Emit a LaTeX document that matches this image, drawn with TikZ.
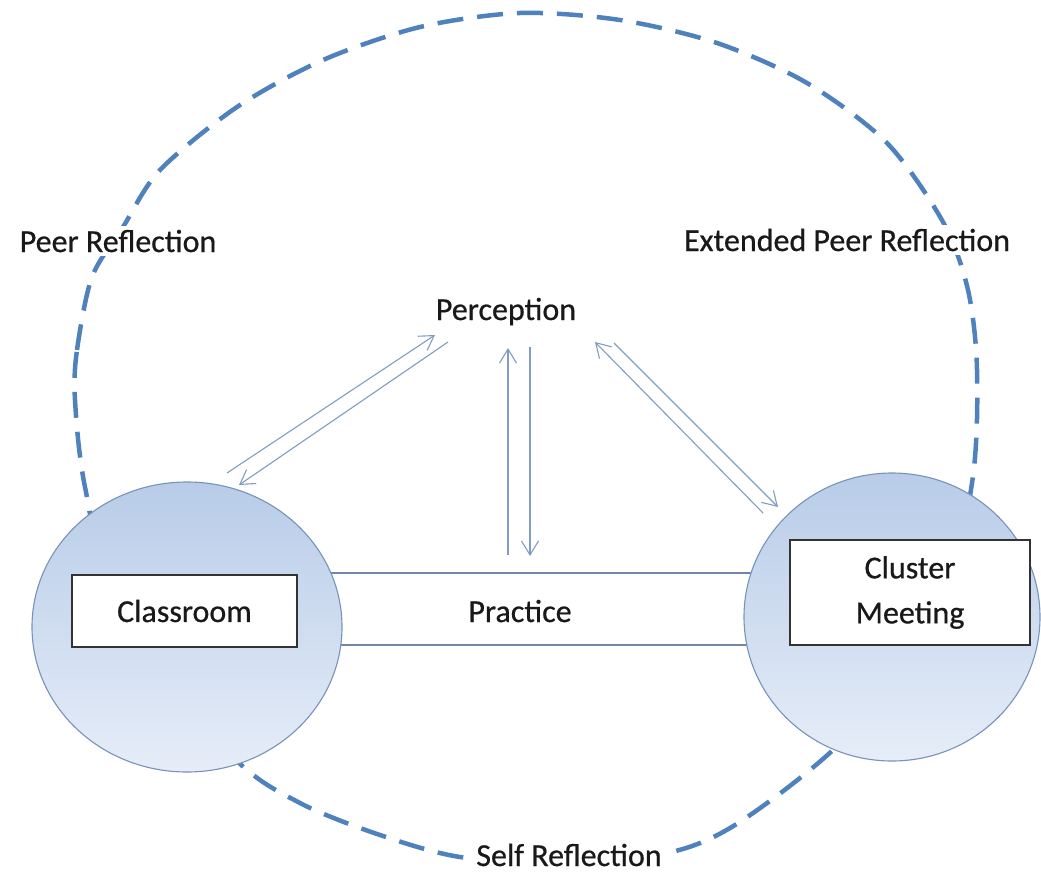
\documentclass[tikz,border=0pt]{standalone}
\usepackage{fontspec}
\setmainfont{Carlito}[FakeBold=0.6]
\usetikzlibrary{arrows.meta,shapes.geometric}
\definecolor{dashblue}{RGB}{79,129,189}
\definecolor{flowblue}{RGB}{128,156,196}
\definecolor{rimblue}{RGB}{120,146,184}
\definecolor{topblue}{RGB}{184,204,232}
\definecolor{botblue}{RGB}{230,237,248}
\definecolor{bandgrey}{RGB}{112,134,168}
\tikzset{>={Straight Barb[length=14pt,width=17pt]}}

\begin{document}
\begin{tikzpicture}[x=1pt,y=-1pt,
  every node/.style={font=\fontsize{32}{45}\selectfont, text=black!90},
  venue/.style={ellipse, draw=rimblue, line width=1.1pt, top color=topblue, bottom color=botblue},
  venuebox/.style={rectangle, draw=black!80, line width=1.3pt, fill=white, align=center},
  band/.style={rectangle, draw=bandgrey, line width=1.2pt, fill=white},
  tag/.style={fill=white, inner sep=4pt, anchor=base},
  reflect/.style={draw=dashblue, line width=4.5pt, dash pattern=on 26pt off 14pt},
  flow/.style={->, draw=flowblue, line width=1.1pt}]
  \useasboundingbox (0,0) rectangle (1041,872);
  % reflection loop
  \draw[reflect] plot[smooth cycle] coordinates {
    (75,400) (77,350) (92,277) (123,227) (160,170) (237,107) (323,60)
    (420,27) (520,13) (620,20) (717,43) (807,83) (887,143) (943,222)
    (968,290) (977,370) (972,483) (935,640) (833,750) (735,825)
    (667,853) (560,862) (460,857) (380,835) (300,803) (233,757)
    (120,620) (85,487)};
  \node[tag] (peer) at (118,252) {Peer Reflection};
  \node[tag] (extpeer) at (847,251) {Extended Peer Reflection};
  \node[tag] (self) at (569,866) {Self Reflection};
  % practice band
  \node[band, minimum width=470, minimum height=72] (band) at (521,609) {};
  \node[anchor=base] (practice) at (520,622) {Practice};
  % venues
  \node[venue, minimum width=310, minimum height=290] (classroom) at (187,627) {};
  \node[venue, minimum width=296, minimum height=288] (cluster) at (892,617) {};
  \node[venuebox, minimum width=225, minimum height=72] (classbox) at (184.5,611) {Classroom};
  \node[venuebox, minimum width=240, minimum height=105] (clusterbox) at (910,592.5) {Cluster\\Meeting};
  % perception and its links
  \node[anchor=base] (perception) at (506,320) {Perception};
  \coordinate (cl-a) at (227,473);  \coordinate (pe-a) at (435,335);
  \coordinate (pe-b) at (448,342);  \coordinate (cl-b) at (239,485);
  \coordinate (pr-a) at (508,555);  \coordinate (pe-c) at (508,348);
  \coordinate (pe-d) at (530,347);  \coordinate (pr-b) at (530,556);
  \coordinate (cm-a) at (763,513);  \coordinate (pe-e) at (595,342);
  \coordinate (pe-f) at (614,343);  \coordinate (cm-b) at (778,507);
  \draw[flow] (cl-a) -- (pe-a);
  \draw[flow] (pe-b) -- (cl-b);
  \draw[flow] (pr-a) -- (pe-c);
  \draw[flow] (pe-d) -- (pr-b);
  \draw[flow] (cm-a) -- (pe-e);
  \draw[flow] (pe-f) -- (cm-b);
\end{tikzpicture}
\end{document}
